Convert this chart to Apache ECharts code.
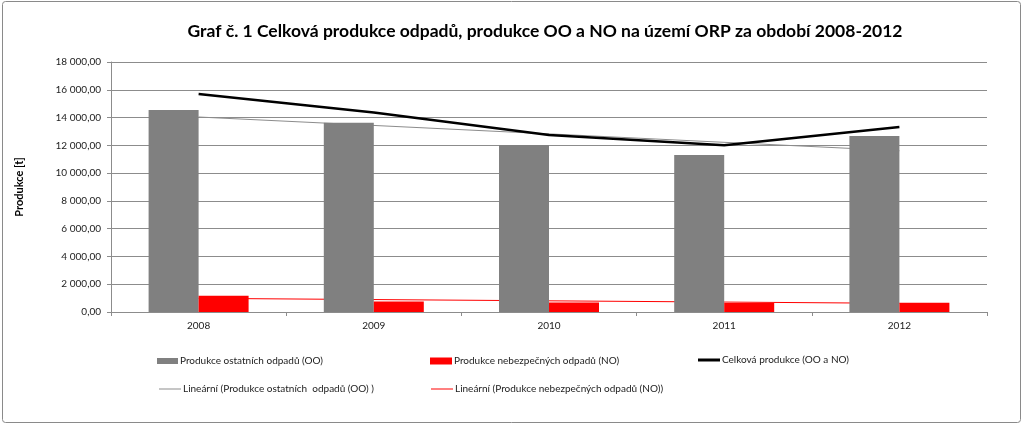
<!DOCTYPE html>
<html>
<head>
<meta charset="utf-8">
<script src="https://cdn.jsdelivr.net/npm/echarts@6/dist/echarts.min.js"></script>
<style>
html,body{margin:0;padding:0;background:#fff;}
#chart{width:1024px;height:425px;}
</style>
</head>
<body>
<div id="chart"></div>
<script>
const categories = ['2008', '2009', '2010', '2011', '2012'];
const ooValues = [14540, 13630, 12020, 11300, 12670];
const noValues = [1170, 750, 690, 650, 670];
const totalValues = [15700, 14360, 12740, 12000, 13320];
const trendOO = [14040, null, null, null, 11610];
const trendNO = [985, null, null, null, 625];

const nameOO = 'Produkce ostatních odpadů (OO)';
const nameNO = 'Produkce nebezpečných odpadů (NO)';
const nameTotal = 'Celková produkce (OO a NO)';
const nameTrendOO = 'Lineární (Produkce ostatních  odpadů (OO) )';
const nameTrendNO = 'Lineární (Produkce nebezpečných odpadů (NO))';

const FONT = 'Lato, "Liberation Sans", sans-serif';

function fmt(v) {
  const s = Math.abs(v).toFixed(2).split('.');
  const intPart = s[0].replace(/\B(?=(\d{3})+(?!\d))/g, ' ');
  return (v < 0 ? '-' : '') + intPart + ',' + s[1];
}

function legendAt(name, left, top, iw, ih) {
  return {
    data: [{ name: name, icon: 'rect' }], left: left, top: top, padding: 0, orient: 'horizontal',
    itemWidth: iw, itemHeight: ih, itemGap: 0,
    selectedMode: false,
    textStyle: { fontFamily: FONT, fontSize: 10, color: '#222', padding: [0, 0, 0, -3] }
  };
}

const chart = echarts.init(document.getElementById('chart'), null, { renderer: 'canvas' });
chart.setOption({
  animation: false,
  backgroundColor: '#fff',
  title: {
    text: 'Graf č. 1 Celková produkce odpadů, produkce OO a NO na území ORP za období 2008-2012',
    left: 540, top: 17, textAlign: 'center',
    textStyle: { fontFamily: FONT, fontSize: 17.5, fontWeight: 'bold', color: '#000' }
  },
  graphic: [{
    type: 'rect', shape: { x: 2.5, y: 1.5, width: 1018, height: 421, r: 3 },
    style: { fill: 'none', stroke: '#8a8a8a', lineWidth: 1 }, silent: true, z: -1
  }],
  legend: [
    legendAt(nameOO, 157, 356, 21, 6),
    legendAt(nameNO, 430, 356, 22, 7),
    legendAt(nameTotal, 698, 355, 22, 3),
    legendAt(nameTrendOO, 159, 384, 22, 1),
    legendAt(nameTrendNO, 431, 384, 22, 1)
  ],
  grid: { left: 111, right: 37, top: 62, bottom: 113, containLabel: false },
  xAxis: {
    type: 'category', data: categories, boundaryGap: true,
    axisLine: { show: true, lineStyle: { color: '#8c8c8c', width: 1 } },
    axisTick: { show: true, length: 4, lineStyle: { color: '#8c8c8c' }, alignWithLabel: false },
    axisLabel: { fontFamily: FONT, fontSize: 10, color: '#222', margin: 9 }
  },
  yAxis: {
    type: 'value', min: 0, max: 18000, interval: 2000,
    name: 'Produkce [t]', nameLocation: 'middle', nameGap: 86, nameRotate: 90,
    nameTextStyle: { fontFamily: FONT, fontSize: 11, fontWeight: 'bold', color: '#000' },
    axisLine: { show: true, lineStyle: { color: '#8c8c8c', width: 1 } },
    axisTick: { show: true, length: 4, lineStyle: { color: '#8c8c8c' } },
    splitLine: { show: true, lineStyle: { color: '#8c8c8c', width: 1 } },
    axisLabel: { fontFamily: FONT, fontSize: 10, color: '#222', margin: 10, formatter: fmt }
  },
  series: [
    { name: nameOO, type: 'bar', data: ooValues, barWidth: 50, barGap: '0%',
      itemStyle: { color: '#808080' }, z: 3 },
    { name: nameNO, type: 'bar', data: noValues, barWidth: 50, barGap: '0%',
      itemStyle: { color: '#ff0000' }, z: 3 },
    { name: nameTotal, type: 'line', data: totalValues, symbol: 'none',
      lineStyle: { color: '#000', width: 2.5 }, itemStyle: { color: '#000' }, z: 5 },
    { name: nameTrendOO, type: 'line', data: trendOO, connectNulls: true, symbol: 'none',
      lineStyle: { color: '#8c8c8c', width: 1 }, itemStyle: { color: '#8c8c8c' }, z: 2 },
    { name: nameTrendNO, type: 'line', data: trendNO, connectNulls: true, symbol: 'none',
      lineStyle: { color: '#ff0000', width: 1 }, itemStyle: { color: '#ff0000' }, z: 2 }
  ]
});
</script>
</body>
</html>
